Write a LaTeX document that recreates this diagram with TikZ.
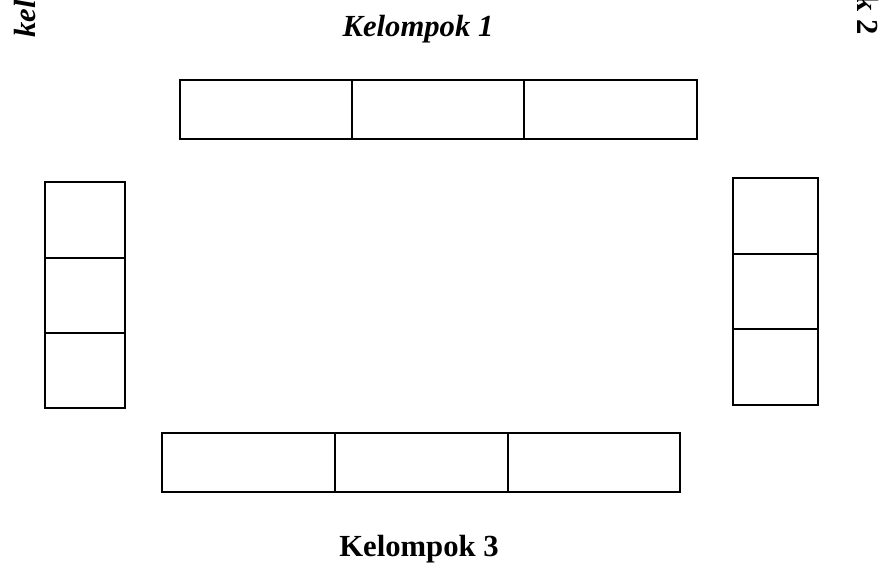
\documentclass[tikz,border=0pt]{standalone}
\usepackage{fontspec}
\setmainfont{Liberation Serif}
\begin{document}
\begin{tikzpicture}[x=0.75pt,y=0.75pt,
  seat/.style={draw=black,line width=1.5pt},
  lbl/.style={inner sep=0pt,font=\fontsize{23}{26}\selectfont\bfseries},
  ilbl/.style={inner sep=0pt,font=\fontsize{23}{26}\selectfont\bfseries\itshape}]
\clip (0,0) rectangle (884,567);
\fill[white] (0,0) rectangle (884,567);
% top row (Kelompok 1)
\draw[seat] (180,487) rectangle (697,428);
\draw[seat] (352,487) -- (352,428);
\draw[seat] (524,487) -- (524,428);
% left column
\draw[seat] (45,385) rectangle (125,159);
\draw[seat] (45,309) -- (125,309);
\draw[seat] (45,234) -- (125,234);
% right column
\draw[seat] (733,389) rectangle (818,162);
\draw[seat] (733,313) -- (818,313);
\draw[seat] (733,238) -- (818,238);
% bottom row (Kelompok 3)
\draw[seat] (162,134) rectangle (680,75);
\draw[seat] (335,134) -- (335,75);
\draw[seat] (508,134) -- (508,75);
% labels
\node[ilbl,anchor=base] (k1) at (418,530) {Kelompok 1};
\node[lbl,anchor=base] (k3) at (419,11) {Kelompok 3};
\node[ilbl,anchor=base west,rotate=90] (k4) at (36,529) {kelompok 4};
\node[lbl,anchor=base east,rotate=-90] (k2) at (857,532) {Kelompok 2};
\end{tikzpicture}
\end{document}
